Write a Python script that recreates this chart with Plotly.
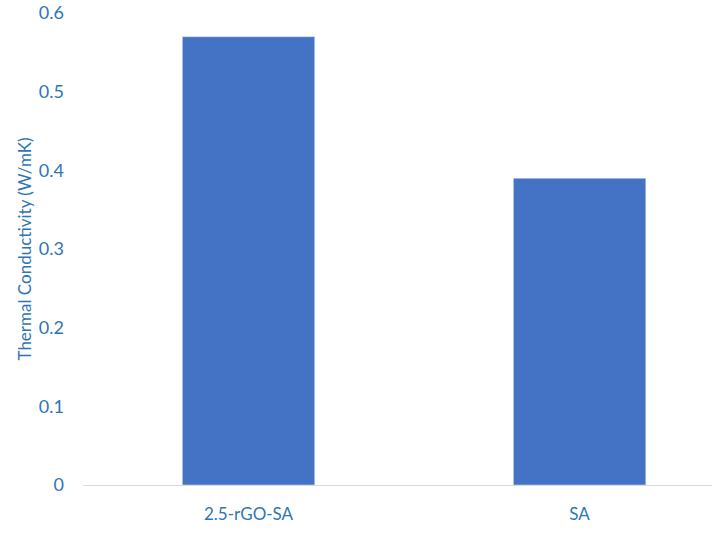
import plotly.graph_objects as go

categories = ["2.5-rGO-SA", "SA"]
values = [0.57, 0.39]
y_ticks = [0, 0.1, 0.2, 0.3, 0.4, 0.5, 0.6]
y_tick_labels = ["0", "0.1", "0.2", "0.3", "0.4", "0.5", "0.6"]

text_color = "#2E75B6"
font_family = "Lato, 'Open Sans', sans-serif"

fig = go.Figure(go.Bar(
    x=categories, y=values, marker_color="#4472C4", width=0.4,
))

fig.update_layout(
    width=712, height=537,
    margin=dict(l=83, r=0, t=13, b=52, autoexpand=False),
    paper_bgcolor="white", plot_bgcolor="white",
    font=dict(family=font_family, size=17, color=text_color),
    showlegend=False,
    xaxis=dict(
        type="category", range=[-0.5, 1.4],
        showline=True, linecolor="#D9D9D9", linewidth=1,
        showgrid=False, ticks="", ticklabelstandoff=14,
        tickfont=dict(size=17, color=text_color),
    ),
    yaxis=dict(
        range=[0, 0.6001], tickvals=y_ticks, ticktext=y_tick_labels,
        showgrid=False, zeroline=False, showline=False, ticks="",
        ticklabelstandoff=18,
        tickfont=dict(size=18, color=text_color),
        title=dict(text="Thermal Conductivity (W/mK)", standoff=2,
                   font=dict(size=17, color=text_color)),
    ),
)

fig.write_html("out.html", config={"displayModeBar": False},
               post_script="document.body.style.margin='0';")
